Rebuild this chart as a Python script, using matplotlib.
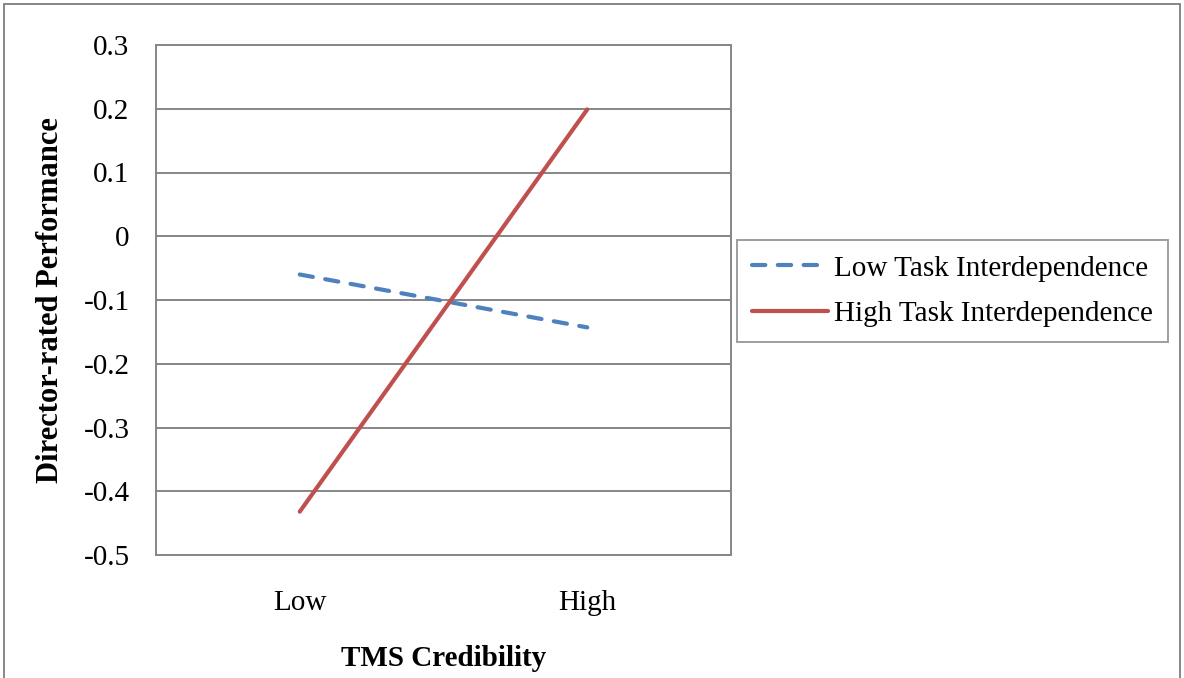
import matplotlib.pyplot as plt
from matplotlib.patches import Rectangle

categories = ['Low', 'High']
low_task = [-0.06, -0.143]
high_task = [-0.432, 0.199]
y_ticks = [0.3, 0.2, 0.1, 0, -0.1, -0.2, -0.3, -0.4, -0.5]

plt.rcParams['font.family'] = ['Liberation Serif', 'DejaVu Serif']

W, H = 1184, 678
fig = plt.figure(figsize=(W / 100, H / 100), dpi=100)
ax = fig.add_axes([156 / W, (H - 555) / H, 575 / W, 510 / H])

x = [0, 1]
ax.plot(x, low_task, color='#4F81BD', lw=3, ls=(0, (3.2, 3)), dash_capstyle='round',
        label='Low Task Interdependence')
ax.plot(x, high_task, color='#C0504D', lw=3, solid_capstyle='round',
        label='High Task Interdependence')

ax.set_xlim(-0.5, 1.5)
ax.set_ylim(-0.5, 0.3)
ax.set_xticks(x)
ax.set_xticklabels(categories)
ax.set_yticks(y_ticks)
ax.set_yticklabels(['0.3', '0.2', '0.1', '0', '-0.1', '-0.2', '-0.3', '-0.4', '-0.5'])
ax.tick_params(length=0, labelsize=21, colors='black')
ax.tick_params(axis='y', pad=19)
ax.tick_params(axis='x', pad=25)
ax.grid(axis='y', color='#868686', lw=1.4)
ax.set_axisbelow(True)
for s in ax.spines.values():
    s.set_color('#868686')
    s.set_linewidth(1.4)

ax.set_ylabel('Director-rated Performance', fontsize=22, fontweight='bold', labelpad=13)
ax.set_xlabel('TMS Credibility', fontsize=21, fontweight='bold', labelpad=21)

leg = fig.legend(loc='upper left', bbox_to_anchor=(737 / W, 1 - 240 / H), fontsize=21,
                 frameon=True, fancybox=False, handlelength=2.6, handletextpad=0.2,
                 borderpad=0.52, labelspacing=0.66, borderaxespad=0)
leg.get_frame().set_edgecolor('#868686')
leg.get_frame().set_linewidth(1.4)

fig.patches.append(Rectangle((4 / W, -0.01), (1180 - 4) / W, 1 - 4 / H + 0.01,
                             transform=fig.transFigure, fill=False,
                             edgecolor='#868686', lw=1.4))

fig.savefig('out.png', dpi=100)
